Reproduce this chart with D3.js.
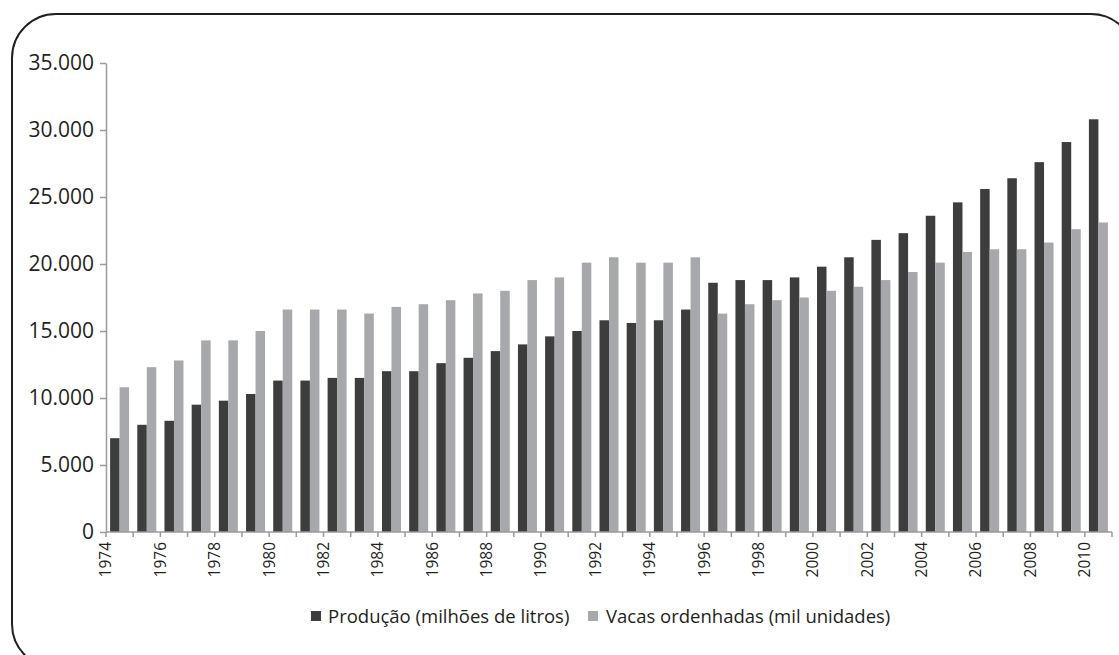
<!DOCTYPE html>
<html>
<head>
<meta charset="utf-8">
<script src="https://cdn.jsdelivr.net/npm/d3@7"></script>
<style>
  html, body { margin: 0; padding: 0; background: #fff; }
  svg { display: block; }
  text { font-family: "Open Sans", "DejaVu Sans", sans-serif; fill: #231f20; }
</style>
</head>
<body>
<svg id="chart" width="1119" height="655"></svg>
<script>
const years = d3.range(1974, 2011);
const producao = [7000, 8000, 8300, 9500, 9800, 10300, 11300, 11300, 11500, 11500,
  12000, 12000, 12600, 13000, 13500, 14000, 14600, 15000, 15800, 15600,
  15800, 16600, 18600, 18800, 18800, 19000, 19800, 20500, 21800, 22300,
  23600, 24600, 25600, 26400, 27600, 29100, 30800];
const vacas = [10800, 12300, 12800, 14300, 14300, 15000, 16600, 16600, 16600, 16300,
  16800, 17000, 17300, 17800, 18000, 18800, 19000, 20100, 20500, 20100,
  20100, 20500, 16300, 17000, 17300, 17500, 18000, 18300, 18800, 19400,
  20100, 20900, 21100, 21100, 21600, 22600, 23100];
const yTicks = [0, 5000, 10000, 15000, 20000, 25000, 30000, 35000];
const seriesNames = ["Produção (milhões de litros)", "Vacas ordenhadas (mil unidades)"];
const seriesColors = ["#3d3d3d", "#a7a8ab"];

const svg = d3.select("#chart");

// rounded frame
svg.append("rect")
  .attr("x", 12).attr("y", 14)
  .attr("width", 1135 - 12).attr("height", 668 - 14)
  .attr("rx", 44).attr("ry", 44)
  .attr("fill", "none").attr("stroke", "#231f20").attr("stroke-width", 2);

const x0 = 106, x1end = 1112, yTop = 63, yBase = 532;

const x = d3.scaleBand().domain(years).range([x0, x1end]).padding(0);
const bw = x.bandwidth();
const xs = d3.scaleBand().domain([0, 1]).range([bw / 2 - 9.5, bw / 2 + 9.5]).padding(0);
const y = d3.scaleLinear().domain([0, 35000]).range([yBase, yTop]);

const locale = d3.formatLocale({ decimal: ",", thousands: ".", grouping: [3], currency: ["", ""] });
const fmt = locale.format(",");

// bars
const data = years.map((yr, i) => ({ year: yr, vals: [producao[i], vacas[i]] }));
const g = svg.append("g");
const groups = g.selectAll("g.yr").data(data).join("g")
  .attr("transform", d => `translate(${x(d.year)},0)`);
groups.selectAll("rect").data(d => d.vals.map((v, k) => ({ k, v }))).join("rect")
  .attr("x", d => xs(d.k))
  .attr("width", xs.bandwidth())
  .attr("y", d => y(d.v))
  .attr("height", d => y(0) - y(d.v))
  .attr("fill", d => seriesColors[d.k]);

// y axis
const yAxis = d3.axisLeft(y).tickValues(yTicks).tickFormat(fmt).tickSize(6).tickSizeOuter(0).tickPadding(6);
const ya = svg.append("g").attr("transform", `translate(${x0},0)`).call(yAxis);
ya.select(".domain").attr("stroke", "#9a9a9a").attr("stroke-width", 1.5);
ya.selectAll(".tick line").attr("stroke", "#9a9a9a").attr("stroke-width", 1.5);
ya.selectAll(".tick text").attr("font-size", 21).attr("fill", "#231f20")
  .attr("font-family", "'Open Sans', sans-serif").attr("dy", "0.32em");

// x axis (ticks at category boundaries)
const xa = svg.append("g");
xa.append("line").attr("x1", x0).attr("x2", x1end).attr("y1", yBase).attr("y2", yBase)
  .attr("stroke", "#9a9a9a").attr("stroke-width", 1.5);
const bounds = years.map(yr => x(yr)).concat([x.range()[1]]);
xa.selectAll("line.tk").data(bounds).join("line").attr("class", "tk")
  .attr("x1", d => d).attr("x2", d => d).attr("y1", yBase).attr("y2", yBase + 5)
  .attr("stroke", "#9a9a9a").attr("stroke-width", 1.5);
const labelYears = years.filter(yr => yr % 2 === 0);
xa.selectAll("text").data(labelYears).join("text")
  .attr("transform", d => `translate(${x(d)},${yBase + 10}) rotate(-90)`)
  .attr("text-anchor", "end")
  .attr("dy", "0.35em")
  .attr("font-size", 15.5)
  .text(d => d);

// legend
const legend = svg.append("g");
const legendItems = [{ x: 311, tx: 328, name: seriesNames[0], c: seriesColors[0] },
                     { x: 588, tx: 606, name: seriesNames[1], c: seriesColors[1] }];
legendItems.forEach(it => {
  legend.append("rect").attr("x", it.x).attr("y", 611).attr("width", 10).attr("height", 10).attr("fill", it.c);
  legend.append("text").attr("x", it.tx).attr("y", 623).attr("font-size", 18.5).text(it.name);
});
</script>
</body>
</html>
